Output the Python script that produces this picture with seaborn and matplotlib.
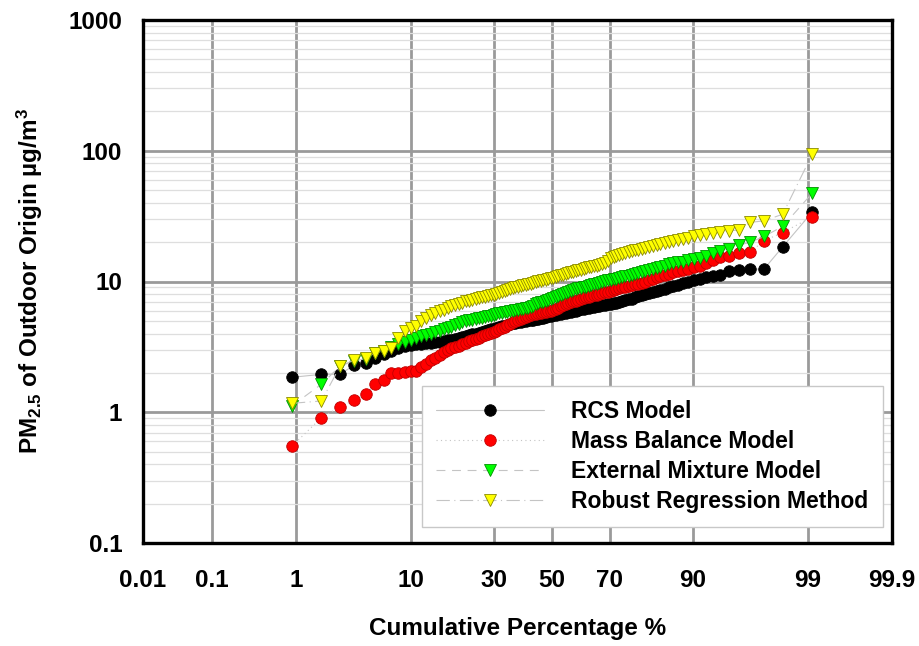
import math
import numpy as np
import pandas as pd
import matplotlib
matplotlib.use("Agg")
import matplotlib.pyplot as plt
from matplotlib.ticker import FixedLocator, NullLocator, LogLocator, FixedFormatter, NullFormatter
import seaborn as sns

# ---------------- data (sorted concentrations) ----------------
rcs_model = [
    1.85, 1.95, 1.95, 2.30, 2.40, 2.60, 2.80, 2.95, 3.10, 3.20,
    3.25, 3.30, 3.32, 3.36, 3.40, 3.43, 3.47, 3.50, 3.55, 3.60,
    3.65, 3.70, 3.76, 3.82, 3.90, 3.95, 4.00, 4.05, 4.12, 4.20,
    4.25, 4.30, 4.36, 4.42, 4.50, 4.55, 4.60, 4.66, 4.72, 4.80,
    4.84, 4.88, 4.92, 4.96, 5.00, 5.04, 5.08, 5.12, 5.16, 5.20,
    5.25, 5.30, 5.34, 5.40, 5.45, 5.50, 5.55, 5.60, 5.65, 5.70,
    5.75, 5.82, 5.88, 5.94, 6.00, 6.05, 6.12, 6.18, 6.24, 6.30,
    6.35, 6.40, 6.46, 6.52, 6.60, 6.65, 6.70, 6.76, 6.82, 6.90,
    7.00, 7.10, 7.20, 7.30, 7.40, 7.55, 7.70, 7.85, 8.00, 8.20,
    8.35, 8.50, 8.65, 8.80, 9.00, 9.20, 9.45, 9.70, 9.95, 10.20,
    10.50, 10.75, 11.00, 11.30, 12.10, 12.20, 12.40, 12.45, 18.40, 34.00,
]
mass_balance = [
    0.55, 0.91, 1.10, 1.24, 1.37, 1.64, 1.76, 1.98, 2.00, 2.03,
    2.05, 2.08, 2.20, 2.35, 2.50, 2.62, 2.75, 2.88, 3.00, 3.08,
    3.15, 3.22, 3.30, 3.40, 3.48, 3.56, 3.64, 3.72, 3.80, 3.88,
    3.96, 4.04, 4.12, 4.20, 4.30, 4.40, 4.50, 4.62, 4.75, 4.88,
    5.00, 5.08, 5.16, 5.25, 5.35, 5.45, 5.52, 5.60, 5.66, 5.72,
    5.76, 5.80, 5.85, 5.90, 5.95, 6.05, 6.15, 6.30, 6.45, 6.60,
    6.75, 6.85, 6.95, 7.05, 7.15, 7.25, 7.35, 7.45, 7.55, 7.65,
    7.75, 7.85, 7.95, 8.05, 8.15, 8.25, 8.35, 8.45, 8.55, 8.70,
    8.85, 9.00, 9.10, 9.20, 9.35, 9.50, 9.60, 9.80, 10.00, 10.25,
    10.50, 10.75, 11.00, 11.25, 11.50, 11.75, 12.00, 12.25, 12.50, 12.80,
    13.20, 13.80, 14.50, 15.30, 15.70, 16.50, 16.70, 20.50, 23.70, 31.20,
]
external_mixture = [
    1.12, 1.64, 2.26, 2.47, 2.57, 2.86, 2.95, 3.13, 3.30, 3.45,
    3.55, 3.68, 3.80, 3.90, 4.00, 4.10, 4.20, 4.30, 4.40, 4.50,
    4.62, 4.75, 4.88, 5.00, 5.06, 5.12, 5.18, 5.24, 5.30, 5.36,
    5.42, 5.48, 5.55, 5.62, 5.70, 5.75, 5.80, 5.86, 5.92, 6.00,
    6.05, 6.10, 6.15, 6.20, 6.25, 6.30, 6.40, 6.55, 6.70, 6.82,
    6.92, 7.02, 7.12, 7.22, 7.30, 7.45, 7.60, 7.75, 7.90, 8.05,
    8.20, 8.35, 8.50, 8.62, 8.75, 8.85, 8.95, 9.05, 9.15, 9.25,
    9.35, 9.50, 9.65, 9.80, 9.95, 10.10, 10.20, 10.30, 10.40, 10.50,
    10.65, 10.80, 10.95, 11.10, 11.30, 11.50, 11.65, 11.85, 12.05, 12.25,
    12.45, 12.70, 12.95, 13.20, 13.50, 13.80, 14.00, 14.20, 14.50, 14.80,
    15.20, 15.70, 16.40, 17.20, 17.70, 19.00, 19.90, 22.10, 26.40, 47.40,
]
robust_regression = [
    1.17, 1.22, 2.26, 2.50, 2.62, 2.86, 2.95, 3.10, 3.70, 4.20,
    4.40, 4.60, 5.00, 5.25, 5.50, 5.70, 5.90, 6.10, 6.30, 6.45,
    6.60, 6.75, 6.90, 7.05, 7.15, 7.25, 7.35, 7.45, 7.55, 7.65,
    7.75, 7.85, 7.95, 8.05, 8.20, 8.35, 8.50, 8.65, 8.80, 8.95,
    9.05, 9.15, 9.25, 9.35, 9.45, 9.55, 9.65, 9.80, 9.95, 10.05,
    10.15, 10.25, 10.35, 10.45, 10.55, 10.70, 10.85, 11.00, 11.15, 11.30,
    11.45, 11.60, 11.75, 11.90, 12.05, 12.20, 12.35, 12.50, 12.65, 12.80,
    12.95, 13.10, 13.25, 13.40, 13.55, 13.75, 14.40, 15.00, 15.50, 15.80,
    16.05, 16.30, 16.55, 16.80, 17.05, 17.30, 17.55, 17.80, 18.05, 18.35,
    18.65, 19.00, 19.30, 19.60, 19.90, 20.30, 20.70, 21.20, 21.70, 22.30,
    22.80, 23.20, 23.60, 24.00, 24.50, 24.70, 28.30, 29.10, 32.70, 94.00,
]
series_names = ["RCS Model", "Mass Balance Model", "External Mixture Model", "Robust Regression Method"]
x_ticks = [0.01, 0.1, 1, 10, 30, 50, 70, 90, 99, 99.9]
x_tick_labels = ["0.01", "0.1", "1", "10", "30", "50", "70", "90", "99", "99.9"]
y_ticks = [0.1, 1, 10, 100, 1000]
y_tick_labels = ["0.1", "1", "10", "100", "1000"]

n_obs = len(rcs_model)
cum_pct = 100.0 * np.arange(1, n_obs + 1) / (n_obs + 1)   # rank plotting positions

# ---------------- normal probability scale ----------------
def _ppf(p):
    p = np.asarray(p, dtype=float)
    a = [-3.969683028665376e+01, 2.209460984245205e+02, -2.759285104469687e+02,
         1.383577518672690e+02, -3.066479806614716e+01, 2.506628277459239e+00]
    b = [-5.447609879822406e+01, 1.615858368580409e+02, -1.556989798598866e+02,
         6.680131188771972e+01, -1.328068155288572e+01]
    c = [-7.784894002430293e-03, -3.223964580411365e-01, -2.400758277161838e+00,
         -2.549671010243338e+00, 4.374664141464968e+00, 2.938163982698783e+00]
    d = [7.784695709041462e-03, 3.224671290700398e-01, 2.445134137142996e+00,
         3.754408661907416e+00]
    p = np.clip(p, 1e-12, 1 - 1e-12)
    out = np.empty_like(p)
    plow, phigh = 0.02425, 1 - 0.02425
    lo = p < plow
    hi = p > phigh
    mid = ~(lo | hi)
    q = np.sqrt(-2 * np.log(p[lo]))
    out[lo] = (((((c[0]*q+c[1])*q+c[2])*q+c[3])*q+c[4])*q+c[5]) / ((((d[0]*q+d[1])*q+d[2])*q+d[3])*q+1)
    q = np.sqrt(-2 * np.log(1 - p[hi]))
    out[hi] = -(((((c[0]*q+c[1])*q+c[2])*q+c[3])*q+c[4])*q+c[5]) / ((((d[0]*q+d[1])*q+d[2])*q+d[3])*q+1)
    q = p[mid] - 0.5
    r = q * q
    out[mid] = (((((a[0]*r+a[1])*r+a[2])*r+a[3])*r+a[4])*r+a[5])*q / (((((b[0]*r+b[1])*r+b[2])*r+b[3])*r+b[4])*r+1)
    return out

_erf = np.vectorize(math.erf)

def prob_forward(pct):
    return _ppf(np.asarray(pct, dtype=float) / 100.0)

def prob_inverse(z):
    z = np.asarray(z, dtype=float)
    return 100.0 * 0.5 * (1.0 + _erf(z / math.sqrt(2.0)))

# ---------------- styling ----------------
sns.set_theme(style="white")
plt.rcParams["font.family"] = ["Liberation Sans", "DejaVu Sans"]
plt.rcParams["font.weight"] = "bold"
plt.rcParams["text.color"] = "black"
plt.rcParams["axes.labelcolor"] = "black"
plt.rcParams["xtick.labelcolor"] = "black"
plt.rcParams["ytick.labelcolor"] = "black"
plt.rcParams["mathtext.fontset"] = "custom"
plt.rcParams["mathtext.rm"] = "Liberation Sans:bold"
plt.rcParams["mathtext.it"] = "Liberation Sans:bold"
plt.rcParams["mathtext.bf"] = "Liberation Sans:bold"

fig = plt.figure(figsize=(9.2, 6.46), dpi=100)
ax = fig.add_axes([143/920, 1 - 543/646, (892 - 143)/920, (543 - 20)/646])

ax.set_xscale("function", functions=(prob_forward, prob_inverse))
ax.set_yscale("log")

frame = pd.DataFrame({
    "pct": np.tile(cum_pct, 4),
    "value": np.concatenate([rcs_model, mass_balance, external_mixture, robust_regression]),
    "series": np.repeat(series_names, n_obs),
})

styles = {
    "RCS Model": dict(ls="-", marker="o", fc="#000000", ec="#000000", ms=8.3),
    "Mass Balance Model": dict(ls=(0, (1, 3)), marker="o", fc="#ff0000", ec="#c00000", ms=8.3),
    "External Mixture Model": dict(ls=(0, (8, 6)), marker="v", fc="#00ff00", ec="#009000", ms=9.3),
    "Robust Regression Method": dict(ls=(0, (12, 4, 1, 4)), marker="v", fc="#ffff00", ec="#8a8a00", ms=9.3),
}

for name in series_names:
    st = styles[name]
    sub = frame[frame["series"] == name]
    sns.lineplot(data=sub, x="pct", y="value", ax=ax, estimator=None, sort=False,
                 color="#c4c4c4", linewidth=0.8, linestyle=st["ls"],
                 marker=st["marker"], markersize=st["ms"],
                 markerfacecolor=st["fc"], markeredgecolor=st["ec"],
                 markeredgewidth=0.6, label=name, zorder=3)

ax.set_xlim(0.01, 99.9)
ax.set_ylim(0.1, 1000)

ax.xaxis.set_major_locator(FixedLocator(x_ticks))
ax.xaxis.set_major_formatter(FixedFormatter(x_tick_labels))
ax.xaxis.set_minor_locator(NullLocator())
ax.yaxis.set_major_locator(FixedLocator(y_ticks))
ax.yaxis.set_major_formatter(FixedFormatter(y_tick_labels))
ax.yaxis.set_minor_locator(LogLocator(base=10, subs=np.arange(2, 10), numticks=50))
ax.yaxis.set_minor_formatter(NullFormatter())

ax.grid(which="major", axis="both", color="#9a9a9a", linewidth=2.0, zorder=1)
ax.grid(which="minor", axis="y", color="#dedede", linewidth=0.9, zorder=0)
ax.set_axisbelow(True)

ax.tick_params(axis="both", which="major", direction="out", length=6, width=1.0,
               color="#aaaaaa", labelsize=17.5, labelcolor="black")
ax.tick_params(axis="x", which="major", pad=12.5)
ax.tick_params(axis="y", which="major", pad=9)
ax.tick_params(axis="both", which="minor", length=0)
for lab in ax.get_xticklabels() + ax.get_yticklabels():
    lab.set_fontweight("bold")

for sp in ax.spines.values():
    sp.set_visible(True)
    sp.set_color("black")
    sp.set_linewidth(2.4)
    sp.set_zorder(5)

ax.set_xlabel("Cumulative Percentage %", fontsize=17.5, fontweight="bold", labelpad=18, color="black")
ax.set_ylabel(r"PM$_{2.5}$ of Outdoor Origin µg/m$^{3}$", fontsize=17.5, fontweight="bold",
              labelpad=17, color="black")

handles, labels = ax.get_legend_handles_labels()
leg = ax.legend(handles, labels, loc="lower left",
                bbox_to_anchor=(0.3725, 0.031, 0.615, 0.275), mode="expand",
                borderaxespad=0.0,
                frameon=True, fancybox=False, framealpha=1.0, edgecolor="#c8c8c8",
                handlelength=4.7, handletextpad=1.2, labelspacing=0.3,
                borderpad=0.62, prop={"weight": "bold", "size": 16.5})
leg.get_frame().set_linewidth(1.0)
leg.set_zorder(6)
for t in leg.get_texts():
    t.set_color("black")

fig.savefig("out.png", dpi=100)
